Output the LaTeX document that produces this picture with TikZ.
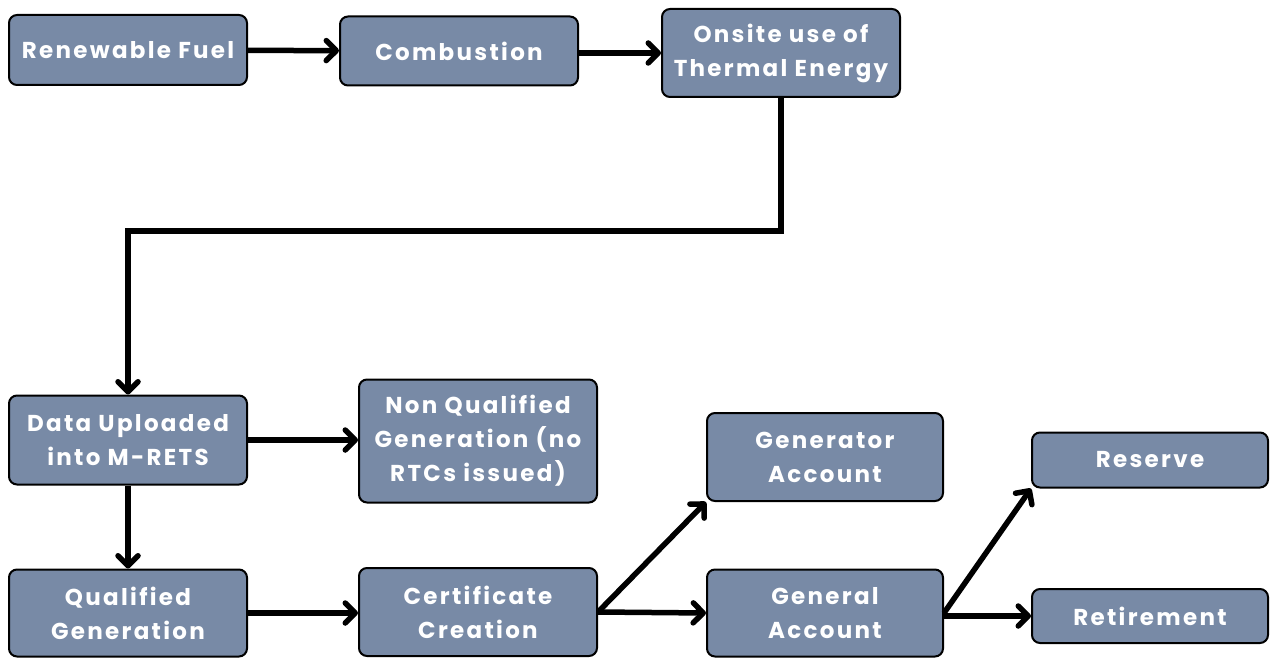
\documentclass[tikz,border=0pt]{standalone}
\usepackage{fontspec}
\setmainfont{Poppins}[LetterSpace=10]
\usepackage{tikz}
\usetikzlibrary{arrows.meta}

\definecolor{boxblue}{RGB}{120,138,166}

\begin{document}
\begin{tikzpicture}[x=1pt,y=-1pt]
    \tikzstyle{box}=[draw=black,line width=2pt,rounded corners=8pt,fill=boxblue,text=white,font=\fontsize{23}{34}\selectfont\bfseries,align=center,minimum width=238pt,inner sep=0pt]
    \tikzstyle{edge}=[draw=black,line width=5.5pt,-{Straight Barb[length=10pt,width=20pt,round]}]

    \useasboundingbox (0,0) rectangle (1270,658);

    % top row
    \node[box,minimum height=70pt] (fuel)   at (128,50)  {Renewable Fuel};
    \node[box,minimum height=69pt] (burn)   at (459,51)  {Combustion};
    \node[box,minimum height=88pt] (onsite) at (781,53)  {Onsite use of\\Thermal Energy};

    % left column
    \node[box,minimum height=89pt]  (data) at (128,440) {Data Uploaded\\into M-RETS};
    \node[box,minimum height=123pt] (nonq) at (478,441) {Non Qualified\\Generation (no\\RTCs issued)};
    \node[box,minimum height=87pt]  (qual) at (128,613) {Qualified\\Generation};

    % certificates and accounts
    \node[box,minimum height=88pt] (cert)    at (478,612) {Certificate\\Creation};
    \node[box,minimum height=88pt,minimum width=236pt] (genacc)  at (825,457) {Generator\\Account};
    \node[box,minimum height=87pt,minimum width=236pt] (general) at (825,613) {General\\Account};
    \node[box,minimum height=55pt,minimum width=236pt] (reserve) at (1150,460) {Reserve};
    \node[box,minimum height=54pt,minimum width=236pt] (retire)  at (1150,616) {Retirement};

    \path[edge] (fuel) -- (burn);
    \path[edge] (burn.east |- onsite) -- (onsite);
    \path[edge] (onsite.south) -- ++(0,133) -| (data.north);

    \path[edge] (data) -- (nonq.west |- data);
    \path[edge] (data) -- (qual);
    \path[edge] (qual) -- (cert.west |- qual);

    \path[edge] (cert.east) -- (genacc.south west);
    \path[edge] (cert.east) -- (general.west);

    \path[edge] (general.east) -- (reserve.south west);
    \path[edge] (general.east |- retire) -- (retire.west);
\end{tikzpicture}
\end{document}
